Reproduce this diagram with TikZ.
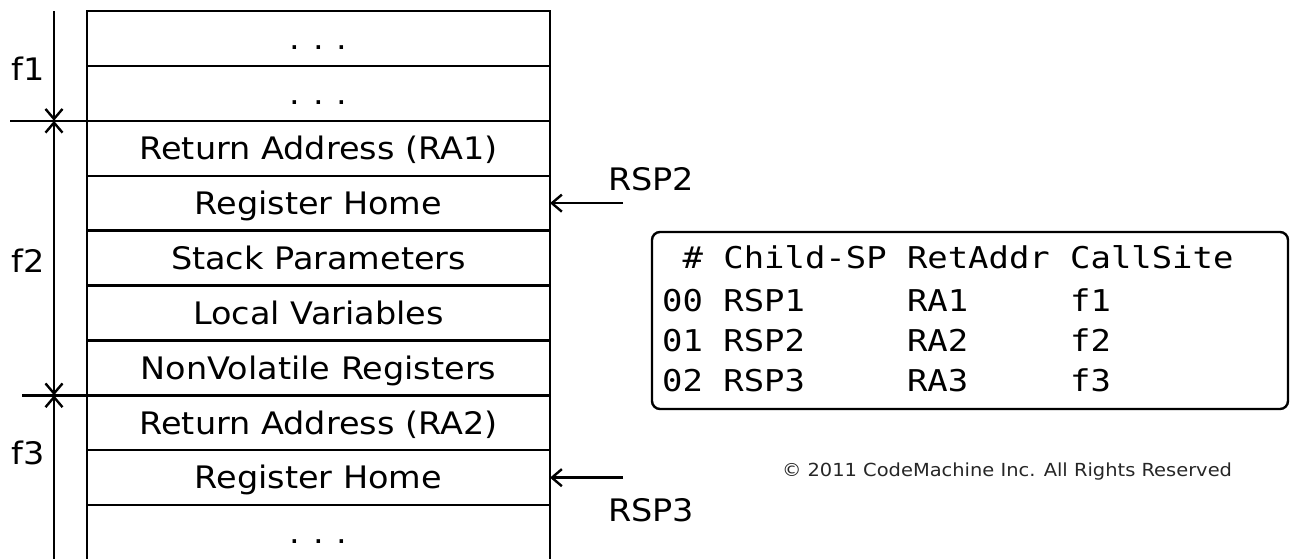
\documentclass[tikz,border=0pt]{standalone}
\usepackage{fontspec}
\setmainfont{DejaVu Sans}[FakeStretch=1.08]
\newfontfamily\monofont{DejaVu Sans Mono}[FakeStretch=1.13]
\usetikzlibrary{arrows.meta}

% spaced ellipsis used in the open-ended cells
\newcommand{\cellgap}{.\hspace{13pt}.\hspace{13pt}.}

\begin{document}
\begin{tikzpicture}[x=1pt,y=-1pt,
  every node/.style={font=\fontsize{31}{36}\selectfont},
  cell/.style={draw, line width=2.4pt, minimum width=463pt, minimum height=54.9pt,
    inner sep=0pt, outer sep=0pt, text height=22.6pt, text depth=0pt, anchor=north west},
  dim/.style={line width=2.4pt},
  tip/.style={-{Straight Barb[length=10pt,width=17pt]}},
  both/.style={{Straight Barb[length=10pt,width=17pt]}-{Straight Barb[length=10pt,width=17pt]}},
  lbl/.style={anchor=base, inner sep=0pt},
  mono/.style={anchor=base west, inner sep=0pt, font=\monofont\fontsize{30}{36}\selectfont}]
\useasboundingbox (0,0) rectangle (1291,558);

% stack frame cells, top to bottom
\node[cell] (r1) at (87,11) {\cellgap};
\node[cell] (r2) at (r1.south west) {\cellgap};
\node[cell] (r3) at (r2.south west) {Return Address (RA1)};
\node[cell] (r4) at (r3.south west) {Register Home};
\node[cell] (r5) at (r4.south west) {Stack Parameters};
\node[cell] (r6) at (r5.south west) {Local Variables};
\node[cell] (r7) at (r6.south west) {NonVolatile Registers};
\node[cell] (r8) at (r7.south west) {Return Address (RA2)};
\node[cell] (r9) at (r8.south west) {Register Home};
\node[cell] (r10) at (r9.south west) {\cellgap};

% frame boundaries on the left
\path (r3.north west) ++(-77,0) coordinate (d1);
\path (r8.north west) ++(-65,0) coordinate (d2);
\draw[dim] (d1) -- (r3.north west);
\draw[dim] (d2) -- (r8.north west);

\coordinate (a1) at (54,11);
\path (r3.north west) ++(-33,0) coordinate (a2);
\path (r8.north west) ++(-33,0) coordinate (a3);
\coordinate (a4) at (54,575);
\draw[dim,tip] (a1) -- (a2);
\draw[dim,both] (a2) -- (a3);
\draw[dim,tip] (a4) -- (a3);

\node[lbl] (lf1) at (28,80) {f1};
\node[lbl] (lf2) at (28,272) {f2};
\node[lbl] (lf3) at (28,464) {f3};

% stack pointers
\path (r4.east) ++(73,0) coordinate (p2);
\path (r9.east) ++(73,0) coordinate (p3);
\draw[dim,tip] (p2) -- (r4.east);
\draw[dim,tip] (p3) -- (r9.east);
\node[anchor=base west, inner sep=0pt] (rsp2) at (608,190) {RSP2};
\node[anchor=base west, inner sep=0pt] (rsp3) at (608,521) {RSP3};

% call stack listing
\node[draw, line width=2.4pt, rounded corners=8pt, minimum width=636pt,
  minimum height=177pt, outer sep=0pt, anchor=north west] (tbl) at (652,232) {};

\node[mono] (h0) at (682.4,268) {\#};
\node[mono] (h1) at (723.2,268) {Child-SP};
\node[mono] (h2) at (906.8,268) {RetAddr};
\node[mono] (h3) at (1070,268) {CallSite};

\node[mono] (a0) at (662,311) {00};
\node[mono] (a5) at (723.2,311) {RSP1};
\node[mono] (a6) at (906.8,311) {RA1};
\node[mono] (a7) at (1070,311) {f1};

\node[mono] (b0) at (662,351) {01};
\node[mono] (b1) at (723.2,351) {RSP2};
\node[mono] (b2) at (906.8,351) {RA2};
\node[mono] (b3) at (1070,351) {f2};

\node[mono] (c0) at (662,391) {02};
\node[mono] (c1) at (723.2,391) {RSP3};
\node[mono] (c2) at (906.8,391) {RA3};
\node[mono] (c3) at (1070,391) {f3};

\node[anchor=base, inner sep=0pt, text=black!85,
  font=\fontsize{18}{21}\selectfont] (copy) at (1007,476)
  {© 2011 CodeMachine Inc. All Rights Reserved};
\end{tikzpicture}
\end{document}
